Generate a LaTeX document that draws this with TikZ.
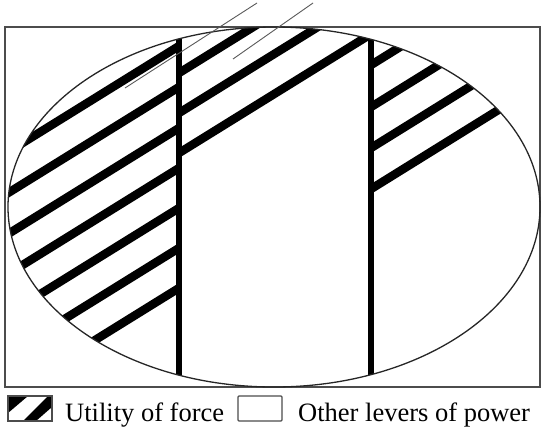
\documentclass[tikz,border=0pt]{standalone}
\usepackage{fontspec}
\setmainfont{Liberation Serif}
\begin{document}
\begin{tikzpicture}[x=1bp,y=-1bp,
  frame/.style={draw=black!70, line width=1.3bp},
  oval/.style={draw=black!85, line width=1.3bp},
  divider/.style={draw=black, line width=6bp},
  stripe/.style={draw=black, line width=8.5bp},
  ghost/.style={draw=black!65, line width=0.9bp},
  legtext/.style={anchor=base west, inner sep=0pt, font=\fontsize{26.5bp}{30bp}\selectfont}]
\useasboundingbox (0,0) rectangle (544,428);
% outer frame
\draw[frame] (5,27) rectangle (540,387);
% hatching and dividers clipped to the ellipse
\begin{scope}
  \clip (274,207) ellipse [x radius=266bp, y radius=180bp];
  % left region
  \begin{scope}
    \clip (0,0) rectangle (179,400);
    \foreach \y in {46,87,128,168,208,248,288}
      \draw[stripe] (0,{\y+111}) -- (190,{\y-6.8});
  \end{scope}
  % middle region
  \begin{scope}
    \clip (179,0) rectangle (371,400);
    \foreach \y in {73,113,153}
      \draw[stripe] (179,\y) -- (371,{\y-119});
  \end{scope}
  % right region
  \begin{scope}
    \clip (371,0) rectangle (545,400);
    \foreach \y in {65,107,148,189}
      \draw[stripe] (371,\y) -- (545,{\y-108});
  \end{scope}
  \draw[divider] (179,20) -- (179,395);
  \draw[divider] (371,20) -- (371,395);
\end{scope}
\draw[oval] (274,207) ellipse [x radius=266bp, y radius=180bp];
% thin lines crossing the top
\draw[ghost] (125,88) -- (257,3);
\draw[ghost] (233,59) -- (313,3);
% legend
\begin{scope}
  \clip (8,396) rectangle (52,421);
  \fill[black] (8,396) -- (28,396) -- (8,413) -- cycle;
  \fill[black] (23,421) -- (36,421) -- (52,407) -- (52,396) -- (48,396) -- cycle;
\end{scope}
\draw[draw=black!70, line width=1.3bp] (8,396) rectangle (52,421);
\node[legtext] (force) at (65,421) {Utility of force};
\draw[draw=black!70, line width=1.3bp, rounded corners=1bp] (238,396) rectangle (282,421);
\node[legtext] (other) at (298,421) {Other levers of power};
\end{tikzpicture}
\end{document}
